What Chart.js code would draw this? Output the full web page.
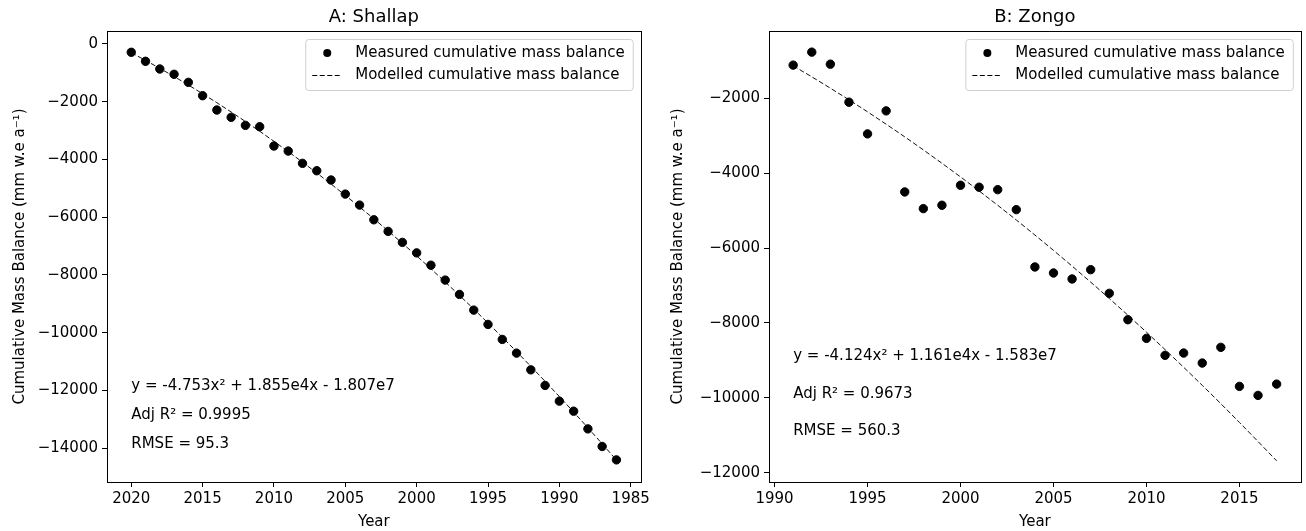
<!DOCTYPE html>
<html>
<head>
<meta charset="utf-8">
<script src="https://cdn.jsdelivr.net/npm/chart.js@4"></script>
<style>
  body { margin: 0; background: #fff; }
  .wrap { position: absolute; top: 0; width: 653px; height: 531px; }
</style>
</head>
<body>
<div class="wrap" style="left:0px"><canvas id="chartShallap" width="653" height="531"></canvas></div>
<div class="wrap" style="left:653px"><canvas id="chartZongo" width="653" height="531"></canvas></div>
<script>
// A: Shallap
var shallapYears = [2020, 2019, 2018, 2017, 2016, 2015, 2014, 2013, 2012, 2011, 2010, 2009, 2008, 2007, 2006, 2005, 2004, 2003,
  2002, 2001, 2000, 1999, 1998, 1997, 1996, 1995, 1994, 1993, 1992, 1991, 1990, 1989, 1988, 1987, 1986];
var shallapMeasured = [-288, -600, -866, -1050, -1328, -1790, -2287, -2540, -2818, -2865, -3534, -3708, -4134, -4390, -4712, -5198, -5579, -6088,
  -6490, -6871, -7235, -7662, -8177, -8673, -9217, -9713, -10232, -10707, -11285, -11826, -12370, -12717, -13330, -13940, -14404];
var shallapModelled = [-300, -567, -842, -1127, -1420, -1723, -2034, -2355, -2684, -3023, -3370, -3727, -4092, -4467, -4850, -5243, -5644, -6054,
  -6474, -6903, -7340, -7787, -8242, -8707, -9180, -9663, -10154, -10655, -11164, -11683, -12210, -12747, -13292, -13847, -14410];
var shallapXTicks = [2020, 2015, 2010, 2005, 2000, 1995, 1990, 1985];
var shallapYTicks = [0, -2000, -4000, -6000, -8000, -10000, -12000, -14000];
var shallapStats = ['y = -4.753x\u00b2 + 1.855e4x - 1.807e7', 'Adj R\u00b2 = 0.9995', 'RMSE = 95.3'];
var shallapStatsAt = [[2020, -12000], [2020, -13000], [2020, -14000]];

// B: Zongo
var zongoYears = [1991, 1992, 1993, 1994, 1995, 1996, 1997, 1998, 1999, 2000, 2001, 2002, 2003,
  2004, 2005, 2006, 2007, 2008, 2009, 2010, 2011, 2012, 2013, 2014, 2015, 2016, 2017];
var zongoMeasured = [-1112, -765, -1086, -2102, -2949, -2334, -4500, -4946, -4856, -4321, -4374, -4439, -4973,
  -6505, -6666, -6826, -6577, -7209, -7914, -8412, -8866, -8805, -9072, -8652, -9695, -9936, -9634];
var zongoModelled = [-1130, -1424, -1727, -2039, -2360, -2690, -3028, -3376, -3733, -4098, -4473, -4857, -5249,
  -5651, -6061, -6481, -6909, -7346, -7793, -8247, -8712, -9185, -9667, -10158, -10659, -11168, -11685];
var zongoXTicks = [1990, 1995, 2000, 2005, 2010, 2015];
var zongoYTicks = [-2000, -4000, -6000, -8000, -10000, -12000];
var zongoStats = ['y = -4.124x\u00b2 + 1.161e4x - 1.583e7', 'Adj R\u00b2 = 0.9673', 'RMSE = 560.3'];
var zongoStatsAt = [[1991, -9000], [1991, -10000], [1991, -11000]];

var legendLabels = ['Measured cumulative mass balance', 'Modelled cumulative mass balance'];
var FONT = 'DejaVu Sans';

function pairs(xs, ys) {
  return xs.map(function (x, i) { return { x: x, y: ys[i] }; });
}

function numLabel(v) {
  return v < 0 ? '\u2212' + Math.abs(v) : String(v);
}

function fixedTicks(values) {
  return function (scale) {
    scale.ticks = values.map(function (v) { return { value: v }; });
  };
}

// frame, title, legend box and fit text, drawn on top of the chart
var extras = {
  id: 'extras',
  afterDraw: function (chart) {
    var ctx = chart.ctx, a = chart.chartArea, o = chart.options.plugins.extras;
    ctx.save();
    ctx.strokeStyle = '#000';
    ctx.lineWidth = 1;
    ctx.strokeRect(Math.round(a.left) + 0.5, Math.round(a.top) + 0.5, Math.round(a.right - a.left), Math.round(a.bottom - a.top));

    ctx.fillStyle = '#000';
    ctx.font = '18px "' + FONT + '"';
    ctx.textAlign = 'center';
    ctx.textBaseline = 'alphabetic';
    ctx.fillText(o.title, (a.left + a.right) / 2, 22);

    // legend
    ctx.font = '15px "' + FONT + '"';
    var tw = Math.max(ctx.measureText(legendLabels[0]).width, ctx.measureText(legendLabels[1]).width);
    var bw = 50 + tw + 8, bh = 51;
    var bx = a.right - 8 - bw, by = a.top + 8;
    ctx.beginPath();
    ctx.roundRect(bx + 0.5, by + 0.5, bw, bh, 3);
    ctx.fillStyle = 'rgba(255,255,255,0.8)';
    ctx.fill();
    ctx.strokeStyle = '#d0d0d0';
    ctx.stroke();
    ctx.fillStyle = '#000';
    ctx.beginPath();
    ctx.arc(bx + 22, by + 14, 4, 0, Math.PI * 2);
    ctx.fill();
    ctx.setLineDash([5, 2.5]);
    ctx.strokeStyle = '#000';
    ctx.beginPath();
    ctx.moveTo(bx + 7, by + 36.5);
    ctx.lineTo(bx + 36, by + 36.5);
    ctx.stroke();
    ctx.setLineDash([]);
    ctx.textAlign = 'left';
    ctx.textBaseline = 'middle';
    ctx.fillText(legendLabels[0], bx + 50, by + 14);
    ctx.fillText(legendLabels[1], bx + 50, by + 36);

    // fit statistics
    var xs = chart.scales.x, ys = chart.scales.y;
    ctx.textBaseline = 'alphabetic';
    o.stats.forEach(function (t, i) {
      ctx.fillText(t, xs.getPixelForValue(o.statsAt[i][0]), ys.getPixelForValue(o.statsAt[i][1]));
    });
    ctx.restore();
  }
};

function makeChart(id, cfg) {
  var ctx = document.getElementById(id).getContext('2d');
  return new Chart(ctx, {
    type: 'scatter',
    data: {
      datasets: [{
        label: legendLabels[0],
        data: pairs(cfg.years, cfg.measured),
        backgroundColor: '#000',
        borderColor: '#000',
        pointRadius: 4.2,
        pointHoverRadius: 4.2,
        order: 1
      }, {
        label: legendLabels[1],
        data: pairs(cfg.years, cfg.modelled),
        showLine: true,
        borderColor: '#111',
        borderWidth: 1,
        borderDash: [5, 2.5],
        pointRadius: 0,
        fill: false,
        order: 2
      }]
    },
    options: {
      responsive: false,
      animation: false,
      layout: { padding: { top: 31, right: cfg.padRight, bottom: 0, left: 0 } },
      plugins: {
        legend: { display: false },
        tooltip: { enabled: false },
        extras: { title: cfg.title, stats: cfg.stats, statsAt: cfg.statsAt }
      },
      scales: {
        x: {
          type: 'linear',
          reverse: cfg.reverse,
          min: cfg.xMin,
          max: cfg.xMax,
          afterBuildTicks: fixedTicks(cfg.xTicks),
          afterFit: function (s) { s.height = 49; },
          border: { display: false },
          grid: { drawOnChartArea: false, drawTicks: true, tickLength: 5, tickColor: '#000' },
          ticks: {
            maxRotation: 0, autoSkip: false, padding: 3,
            color: '#000', font: { family: FONT, size: 15 },
            callback: function (v) { return String(v); }
          },
          title: { display: true, text: 'Year', color: '#000', font: { family: FONT, size: 15 }, padding: { top: 0, bottom: 0 } }
        },
        y: {
          min: cfg.yMin,
          max: cfg.yMax,
          afterBuildTicks: fixedTicks(cfg.yTicks),
          afterFit: function (s) { s.width = cfg.yWidth; },
          border: { display: false },
          grid: { drawOnChartArea: false, drawTicks: true, tickLength: 5, tickColor: '#000' },
          ticks: {
            autoSkip: false, padding: 4,
            color: '#000', font: { family: FONT, size: 15 },
            callback: numLabel
          },
          title: {
            display: true, text: 'Cumulative Mass Balance (mm w.e a\u207b\u00b9)', color: '#000',
            font: { family: FONT, size: 15 }, padding: { top: cfg.yTitlePad, bottom: 0 }
          }
        }
      }
    },
    plugins: [extras]
  });
}

makeChart('chartShallap', {
  title: 'A: Shallap', years: shallapYears, measured: shallapMeasured, modelled: shallapModelled,
  stats: shallapStats, statsAt: shallapStatsAt, xTicks: shallapXTicks, yTicks: shallapYTicks,
  reverse: true, xMin: 1984.3, xMax: 2021.7, yMin: -15170, yMax: 450,
  yWidth: 107, padRight: 11, yTitlePad: 11
});

makeChart('chartZongo', {
  title: 'B: Zongo', years: zongoYears, measured: zongoMeasured, modelled: zongoModelled,
  stats: zongoStats, statsAt: zongoStatsAt, xTicks: zongoXTicks, yTicks: zongoYTicks,
  reverse: false, xMin: 1989.7, xMax: 2018.3, yMin: -12250, yMax: -200,
  yWidth: 116, padRight: 3, yTitlePad: 16
});
</script>
</body>
</html>
